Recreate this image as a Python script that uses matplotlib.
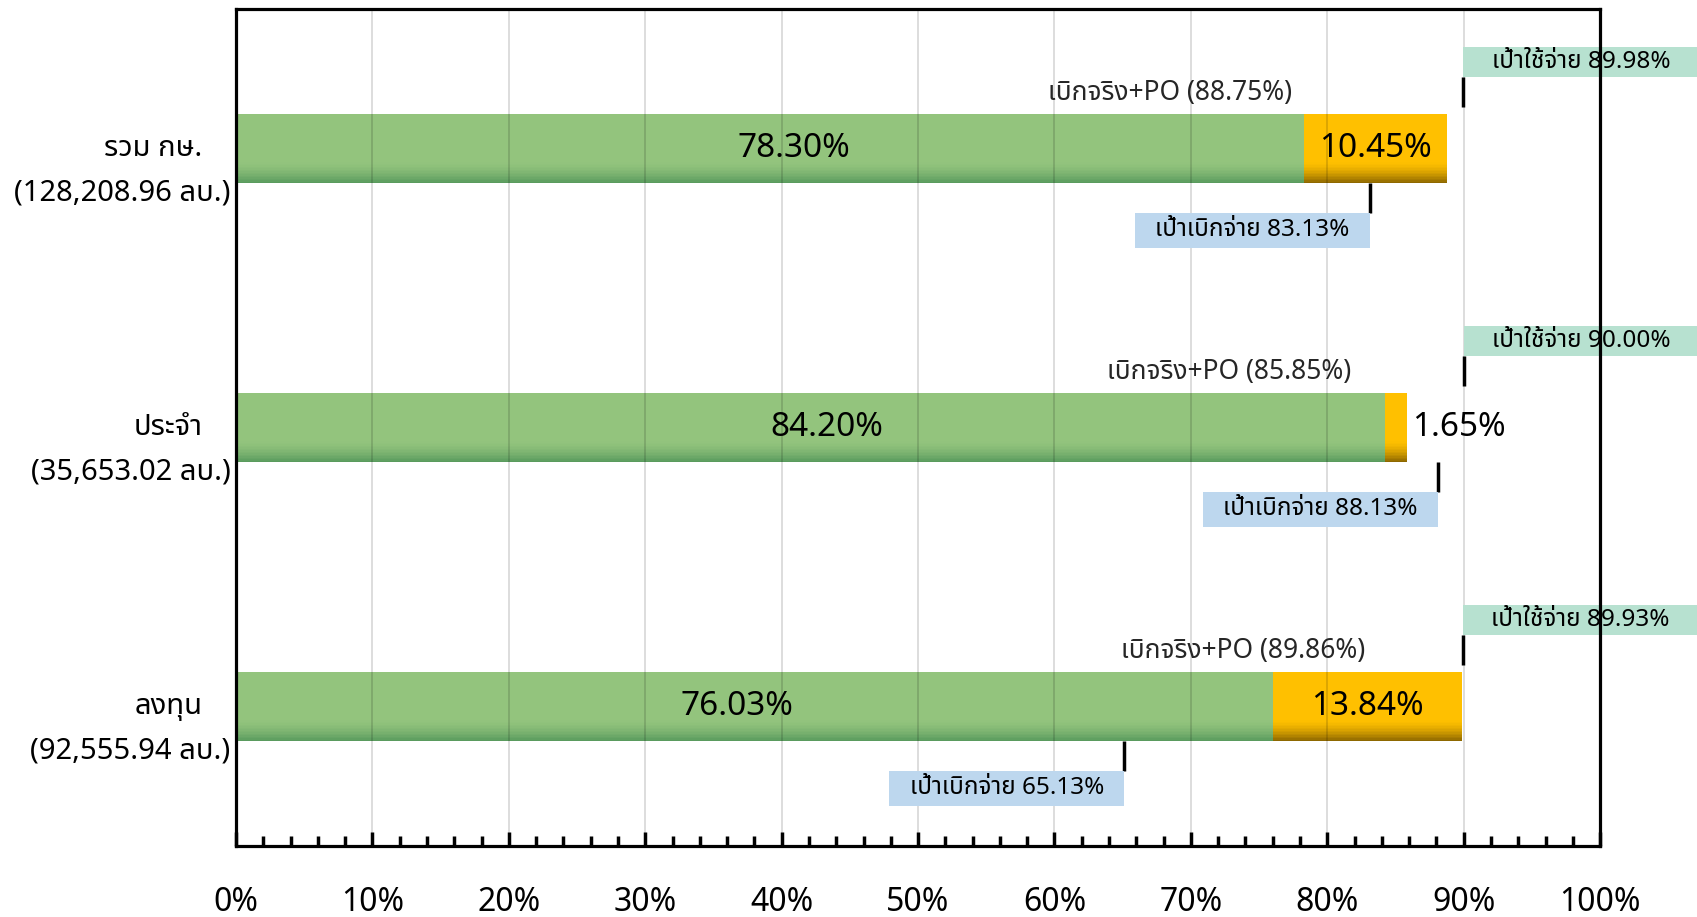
import numpy as np
import matplotlib
matplotlib.use("Agg")
from matplotlib import pyplot as plt
from matplotlib.colors import to_rgb
from matplotlib.patches import Rectangle
from matplotlib.ticker import MultipleLocator, FuncFormatter

plt.rcParams["font.family"] = ["Noto Sans Thai", "DejaVu Sans"]

# rows from bottom to top
categories = ["ลงทุน", "ประจำ", "รวม กษ."]
budgets = ["(92,555.94 ลบ.)", "(35,653.02 ลบ.)", "(128,208.96 ลบ.)"]
actual = [76.03, 84.20, 78.30]
po = [13.84, 1.65, 10.45]
actual_plus_po = [89.86, 85.85, 88.75]
spend_target = [89.93, 90.00, 89.98]
disburse_target = [65.13, 88.13, 83.13]

# where the labels sit along x
actual_label_x = [36.7, 43.3, 40.9]
po_caption_x = [73.8, 72.8, 68.5]

GREEN = "#93C47D"
GREEN_DARK = "#5A9B5E"
ORANGE = "#FFC000"
ORANGE_DARK = "#8E6800"
MINT = "#B7E1D0"
SKY = "#BDD7EE"
BAR_H = 0.25
BOX_W = 17.25
MINT_H = 0.11
SKY_H = 0.125


def gradient_barh(ax, y, width, left, color, dark, steps=14, fade=0.3):
    ax.barh(y, width, left=left, height=BAR_H, color=color, zorder=1.5)
    base = np.array(to_rgb(color))
    end = np.array(to_rgb(dark))
    h = BAR_H * fade / steps
    for i in range(steps):
        t = ((i + 1) / steps) ** 1.6
        ax.barh(y - BAR_H / 2 + BAR_H * fade - (i + 1) * h, width, left=left,
                height=h, align="edge", color=base + (end - base) * t, zorder=1.5)


fig = plt.figure(figsize=(16.97, 9.17), dpi=100)
ax = fig.add_axes([0.1391, 0.0774, 0.8038, 0.9128])

ypos = np.arange(len(categories))
gradient_barh(ax, ypos, actual, 0, GREEN, GREEN_DARK)
gradient_barh(ax, ypos, po, actual, ORANGE, ORANGE_DARK)

for i, y in enumerate(ypos):
    ax.text(actual_label_x[i], y, f"{actual[i]:.2f}%", ha="center", va="center",
            fontsize=24, zorder=5)
    if po[i] > 5:
        ax.text(actual[i] + po[i] / 2, y, f"{po[i]:.2f}%", ha="center", va="center",
                fontsize=24, zorder=5)
    else:
        ax.text(actual_plus_po[i] + 0.4, y, f"{po[i]:.2f}%", ha="left", va="center",
                fontsize=24, zorder=5)

    ax.text(po_caption_x[i], y + 0.2, f"เบิกจริง+PO ({actual_plus_po[i]:.2f}%)",
            ha="center", va="center", fontsize=19, color="#262626", zorder=5)

    # spending target (above the bar)
    st = spend_target[i]
    ax.vlines(st, y + 0.15, y + 0.255, color="black", lw=2.5, zorder=4)
    ax.add_patch(Rectangle((st, y + 0.255), BOX_W, MINT_H, facecolor=MINT,
                           edgecolor="none", clip_on=False, zorder=4))
    ax.text(st + BOX_W / 2, y + 0.255 + MINT_H / 2, f"เป้าใช้จ่าย {st:.2f}%",
            ha="center", va="center", fontsize=17.5, clip_on=False, zorder=5)

    # disbursement target (below the bar)
    dt = disburse_target[i]
    ax.vlines(dt, y - 0.125, y - 0.23, color="black", lw=2.5, zorder=4)
    ax.add_patch(Rectangle((dt - BOX_W, y - 0.23 - SKY_H), BOX_W, SKY_H,
                           facecolor=SKY, edgecolor="none", clip_on=False, zorder=4))
    ax.text(dt - BOX_W / 2, y - 0.23 - SKY_H / 2, f"เป้าเบิกจ่าย {dt:.2f}%",
            ha="center", va="center", fontsize=17.5, zorder=5)

    # category labels
    ax.annotate(categories[i], xy=(0, y), xytext=(-24, 0), textcoords="offset points",
                ha="right", va="center", fontsize=21, annotation_clip=False)
    ax.annotate(budgets[i], xy=(0, y), xytext=(-4, -32), textcoords="offset points",
                ha="right", va="center", fontsize=21, annotation_clip=False)

ax.set_xlim(0, 100)
ax.set_ylim(-0.5, len(categories) - 0.5)
ax.xaxis.set_major_locator(MultipleLocator(10))
ax.xaxis.set_minor_locator(MultipleLocator(2))
ax.xaxis.set_major_formatter(FuncFormatter(lambda v, _: f"{v:.0f}%"))
ax.set_yticks([])
ax.tick_params(axis="x", which="major", direction="in", length=10, width=2.5,
               labelsize=23, pad=29)
ax.tick_params(axis="x", which="minor", direction="in", length=7, width=2.5)

ax.set_axisbelow(False)
ax.grid(axis="x", which="major", color="black", alpha=0.15, lw=1.3)
for side in ["left", "right", "top", "bottom"]:
    ax.spines[side].set_linewidth(2.3)
    ax.spines[side].set_zorder(6)

fig.savefig("out.png", dpi=100)
